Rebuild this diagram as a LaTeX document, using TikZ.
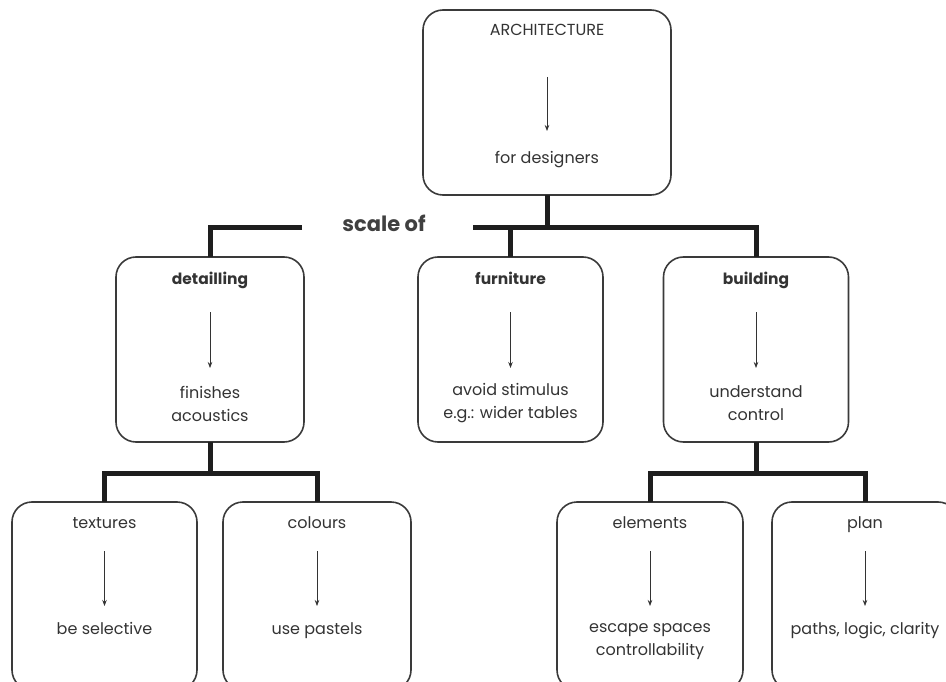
\documentclass[tikz,border=0pt]{standalone}
\usepackage{fontspec}
\setmainfont{Poppins}
\usetikzlibrary{arrows.meta,calc}
\definecolor{framec}{HTML}{3A3A3A}
\definecolor{busc}{HTML}{1E1E1E}
\definecolor{txt}{HTML}{333333}
\begin{document}
\begin{tikzpicture}[x=1pt,y=-1pt,
  frame/.style={draw=framec, line width=1.6pt, rounded corners=20pt,
    minimum height=185pt, inner sep=0pt, outer sep=0pt},
  label/.style={font=\fontsize{16}{18}\selectfont, text=txt, inner sep=0pt,
    text height=11.5pt, text depth=3.5pt},
  headb/.style={label, font=\fontsize{15.5}{18}\selectfont\bfseries},
  body/.style={font=\fontsize{16}{23}\selectfont, align=center, text=txt, inner sep=0pt},
  bus/.style={draw=busc, line width=5pt},
  flow/.style={draw=txt, line width=0.7pt, -{Stealth[length=6pt,width=4.5pt]}}]
\useasboundingbox (0,0) rectangle (946,682);
\clip (0,0) rectangle (946,682);

% --- boxes ---
\node[frame, minimum width=248pt] (arch) at (547,102.5) {};
\node[frame, minimum width=188pt] (det)  at (210,349.5) {};
\node[frame, minimum width=185pt] (fur)  at (510.5,349.5) {};
\node[frame, minimum width=185pt] (bld)  at (756,349.5) {};
\node[frame, minimum width=185pt, minimum height=188pt] (tex)  at (104.5,596) {};
\node[frame, minimum width=188pt, minimum height=188pt] (col)  at (317,596) {};
\node[frame, minimum width=186pt, minimum height=188pt] (ele)  at (650,596) {};
\node[frame, minimum width=186pt, minimum height=188pt] (plan) at (865,596) {};

% --- top box contents ---
\node[label] (archT) at (547,32) {ARCHITECTURE};
\node[label] (archB) at (547,160) {for designers};
\coordinate (archA1) at (547,77);
\coordinate (archA2) at (547,131);
\draw[flow] (archA1) -- (archA2);

% --- middle row contents ---
\node[headb] (detT) at (210,280) {detailling};
\node[body]  (detB) at (210,403.5) {finishes\\acoustics};
\coordinate (detA1) at (210,312);
\coordinate (detA2) at (210,368);
\draw[flow] (detA1) -- (detA2);

\node[headb] (furT) at (510.5,280) {furniture};
\node[body]  (furB) at (510.5,403.5) {avoid stimulus\\e.g.: wider tables};
\coordinate (furA1) at (510.5,312);
\coordinate (furA2) at (510.5,368);
\draw[flow] (furA1) -- (furA2);

\node[headb] (bldT) at (756,280) {building};
\node[body]  (bldB) at (756,403.5) {understand\\control};
\coordinate (bldA1) at (756,312);
\coordinate (bldA2) at (756,368);
\draw[flow] (bldA1) -- (bldA2);

% --- bottom row contents ---
\node[label] (texT) at (104.5,524) {textures};
\node[label] (texB) at (104.5,630) {be selective};
\coordinate (texA1) at (104.5,551);
\coordinate (texA2) at (104.5,606);
\draw[flow] (texA1) -- (texA2);

\node[label] (colT) at (317,524) {colours};
\node[label] (colB) at (317,630) {use pastels};
\coordinate (colA1) at (317,551);
\coordinate (colA2) at (317,606);
\draw[flow] (colA1) -- (colA2);

\node[label] (eleT) at (650,524) {elements};
\node[body]  (eleB) at (650,641.5) {escape spaces\\controllability};
\coordinate (eleA1) at (650,551);
\coordinate (eleA2) at (650,606);
\draw[flow] (eleA1) -- (eleA2);

\node[label] (planT) at (865,524) {plan};
\node[label] (planB) at (865,630) {paths, logic, clarity};
\coordinate (planA1) at (865,551);
\coordinate (planA2) at (865,606);
\draw[flow] (planA1) -- (planA2);

% --- "scale of" bus ---
\node[font=\fontsize{21}{24}\selectfont\bfseries, text=busc!85, inner sep=0pt] (scale) at (384,223) {scale of};
\coordinate (jTop) at (547,228);
\coordinate (jLeft) at (302,228);
\coordinate (jRight) at (473,228);
\draw[bus] (arch.south) -- (jTop);
\draw[bus] (jLeft) -| (det.north);
\draw[bus] (jRight) -| (bld.north);
\draw[bus] (fur.north |- jTop) -- (fur.north);

% --- lower buses ---
\coordinate (jDet) at ($(det.south)+(0,31)$);
\coordinate (jBld) at ($(bld.south)+(0,31)$);
\draw[bus] (det.south) -- (jDet);
\draw[bus] (tex.north) |- (jDet) -| (col.north);
\draw[bus] (bld.south) -- (jBld);
\draw[bus] (ele.north) |- (jBld) -| (plan.north);
\end{tikzpicture}
\end{document}
